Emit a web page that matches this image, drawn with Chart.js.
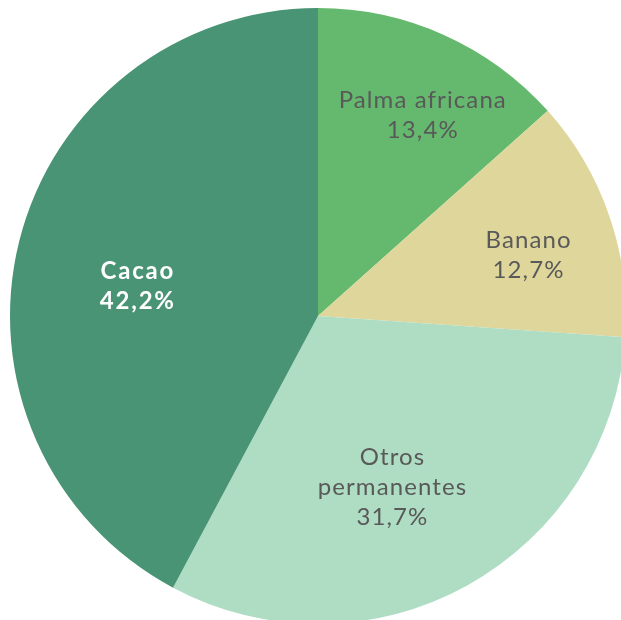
<!DOCTYPE html>
<html lang="es">
<head>
    <meta charset="UTF-8">
    <title>Cultivos permanentes</title>
    <script src="https://cdn.jsdelivr.net/npm/chart.js"></script>
    <style>
        html, body { margin: 0; padding: 0; background: #fff; overflow: hidden; width: 621px; height: 620px; }
        #wrap { position: absolute; left: 10px; top: 8px; width: 616px; height: 616px; }
    </style>
</head>
<body>
    <div id="wrap"><canvas id="pieChart"></canvas></div>
    <script>
        const categories = ['Palma africana', 'Banano', ['Otros', 'permanentes'], 'Cacao'];
        const shares = [13.4, 12.7, 31.7, 42.2];
        const sliceColors = ['#65b96e', '#ded69a', '#aeddc3', '#4a9476'];
        const labelColors = ['#595959', '#595959', '#595959', '#ffffff'];
        const labelBold = [false, false, false, true];
        // where each label sits: fraction of radius, and angle nudge (deg)
        const labelRadius = [0.735, 0.71, 0.607, 0.596];
        const labelNudge = [3.3, 2.7, 5.7, -4.6];

        const pieLabels = {
            id: 'pieLabels',
            afterDatasetsDraw(chart) {
                const ctx = chart.ctx;
                const meta = chart.getDatasetMeta(0);
                meta.data.forEach((arc, i) => {
                    const p = arc.getProps(['x', 'y', 'startAngle', 'endAngle', 'outerRadius'], true);
                    const a = (p.startAngle + p.endAngle) / 2 + labelNudge[i] * Math.PI / 180;
                    const r = p.outerRadius * labelRadius[i];
                    const cx = p.x + Math.cos(a) * r;
                    const cy = p.y + Math.sin(a) * r;
                    const name = categories[i];
                    const lines = (Array.isArray(name) ? name : [name]).concat(
                        shares[i].toFixed(1).replace('.', ',') + '%');
                    const lh = 30;
                    const sp = labelBold[i] ? 1.8 : 1.1;
                    ctx.save();
                    ctx.font = (labelBold[i] ? 'bold ' : '') + '24px Lato, sans-serif';
                    ctx.letterSpacing = sp + 'px';
                    ctx.fillStyle = labelColors[i];
                    ctx.textAlign = 'center';
                    ctx.textBaseline = 'middle';
                    lines.forEach((t, k) => {
                        ctx.fillText(t, cx + sp / 2, cy + (k - (lines.length - 1) / 2) * lh);
                    });
                    ctx.restore();
                });
            }
        };

        new Chart(document.getElementById('pieChart'), {
            type: 'pie',
            data: {
                labels: categories,
                datasets: [{
                    data: shares,
                    backgroundColor: sliceColors,
                    borderWidth: 0
                }]
            },
            options: {
                responsive: true,
                maintainAspectRatio: false,
                animation: false,
                layout: { padding: 0 },
                plugins: {
                    legend: { display: false },
                    tooltip: { enabled: false }
                }
            },
            plugins: [pieLabels]
        });
    </script>
</body>
</html>
